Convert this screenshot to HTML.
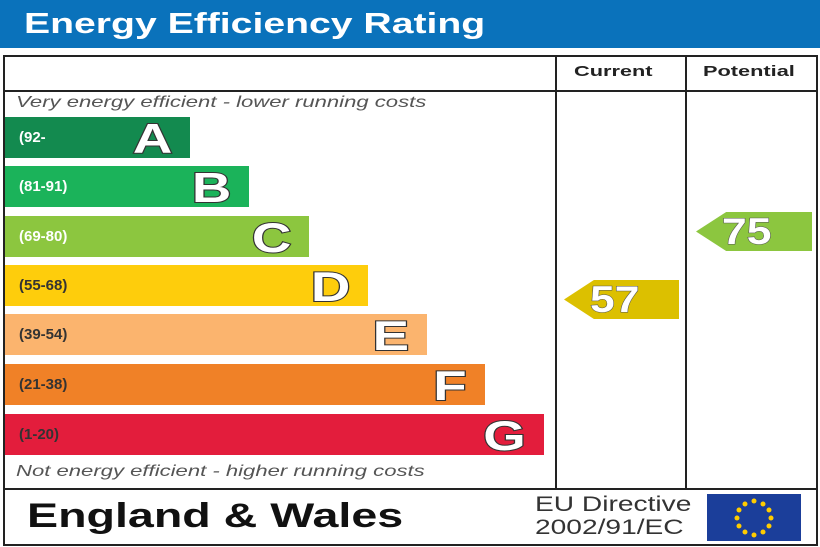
<!DOCTYPE html>
<html><head><style>
*{margin:0;padding:0;box-sizing:border-box}
body{width:820px;height:547px;background:#fff;position:relative;overflow:hidden;font-family:"Liberation Sans",sans-serif}
.abs{position:absolute}
.sx{display:inline-block;transform-origin:0 0}
.hdr{left:0;top:0;width:820px;height:48px;background:#0a72bb;color:#fff;font-weight:bold;font-size:29px;padding:8px 0 0 24px}
.ln{background:#222}
.bar{position:absolute;left:5px;height:41px}
.bar .r{position:absolute;left:14px;top:12px;font-size:15px;font-weight:bold;color:#fff}
.bar .l{position:absolute;right:18px;top:-2px;font-size:42px;font-weight:bold;color:#fff;-webkit-text-stroke:2px #333;paint-order:stroke fill;transform:scaleX(1.3);transform-origin:100% 0}
.it{font-style:italic;font-size:16px;color:#555}
.arr{position:absolute;height:39px;clip-path:polygon(0 50%,26% 0,100% 0,100% 100%,26% 100%);color:#fff;font-weight:bold;font-size:37px;padding:0 0 0 26px;line-height:39px;-webkit-text-stroke:1px #555;paint-order:stroke fill}
</style></head><body>
<div class="abs hdr"><span class="sx" style="transform:scaleX(1.35)">Energy Efficiency Rating</span></div>
<div class="abs" style="left:3px;top:55px;width:815px;height:491px;border:2px solid #222"></div>
<div class="abs ln" style="left:555px;top:55px;width:2px;height:435px"></div>
<div class="abs ln" style="left:685px;top:55px;width:2px;height:435px"></div>
<div class="abs ln" style="left:3px;top:90px;width:815px;height:2px"></div>
<div class="abs ln" style="left:3px;top:488px;width:815px;height:2px"></div>
<div class="abs" style="left:574px;top:63px;font-size:15px;font-weight:bold;color:#222"><span class="sx" style="transform:scaleX(1.45)">Current</span></div>
<div class="abs" style="left:703px;top:63px;font-size:15px;font-weight:bold;color:#222"><span class="sx" style="transform:scaleX(1.45)">Potential</span></div>
<div class="abs it" style="left:16px;top:94px"><span class="sx" style="transform:scaleX(1.38)">Very energy efficient - lower running costs</span></div>
<div class="abs it" style="left:16px;top:463px"><span class="sx" style="transform:scaleX(1.38)">Not energy efficient - higher running costs</span></div>
<div class="bar" style="top:117px;width:185px;background:#138a4f"><span class="r">(92-</span><span class="l">A</span></div>
<div class="bar" style="top:166px;width:244px;background:#1bb35a"><span class="r">(81-91)</span><span class="l">B</span></div>
<div class="bar" style="top:216px;width:304px;background:#8cc63f"><span class="r">(69-80)</span><span class="l">C</span></div>
<div class="bar" style="top:265px;width:363px;background:#fecd0c"><span class="r" style="color:#333">(55-68)</span><span class="l">D</span></div>
<div class="bar" style="top:314px;width:422px;background:#fbb46e"><span class="r" style="color:#333">(39-54)</span><span class="l">E</span></div>
<div class="bar" style="top:364px;width:480px;background:#f08127"><span class="r" style="color:#333">(21-38)</span><span class="l">F</span></div>
<div class="bar" style="top:414px;width:539px;background:#e31d3c"><span class="r" style="color:#333">(1-20)</span><span class="l">G</span></div>
<div class="arr" style="left:564px;top:280px;width:115px;background:#dcc000"><span class="sx" style="transform:scaleX(1.2)">57</span></div>
<div class="arr" style="left:696px;top:212px;width:116px;background:#8cc63f"><span class="sx" style="transform:scaleX(1.2)">75</span></div>
<div class="abs" style="left:27px;top:497px;font-size:34px;font-weight:bold;color:#111"><span class="sx" style="transform:scaleX(1.37)">England &amp; Wales</span></div>
<div class="abs" style="left:535px;top:493px;font-size:21px;color:#333;line-height:23px"><span class="sx" style="transform:scaleX(1.34)">EU Directive<br>2002/91/EC</span></div>
<svg class="abs" style="left:707px;top:494px" width="94" height="47">
<rect width="94" height="47" fill="#1b3e9a"/>
<g fill="#fc0">
<circle cx="47" cy="7" r="2.5"/><circle cx="56" cy="10" r="2.5"/><circle cx="62" cy="16" r="2.5"/><circle cx="64" cy="24" r="2.5"/><circle cx="62" cy="32" r="2.5"/><circle cx="56" cy="38" r="2.5"/><circle cx="47" cy="41" r="2.5"/><circle cx="38" cy="38" r="2.5"/><circle cx="32" cy="32" r="2.5"/><circle cx="30" cy="24" r="2.5"/><circle cx="32" cy="16" r="2.5"/><circle cx="38" cy="10" r="2.5"/>
</g></svg>
</body></html>
